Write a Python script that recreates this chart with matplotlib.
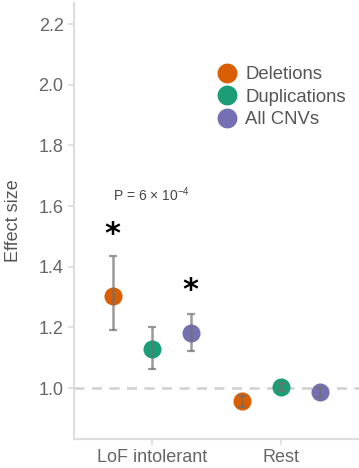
import numpy as np
import matplotlib
matplotlib.use('Agg')
import matplotlib.pyplot as plt

plt.rcParams['font.family'] = ['Liberation Sans', 'DejaVu Sans']
plt.rcParams['mathtext.fontset'] = 'custom'
plt.rcParams['mathtext.rm'] = 'Liberation Sans'
plt.rcParams['mathtext.it'] = 'Liberation Sans:italic'

# Data
categories = ['LoF intolerant', 'Rest']
series = ['Deletions', 'Duplications', 'All CNVs']
colors = ['#D95F02', '#1B9E77', '#7570B3']
effect = {
    'Deletions': [1.305, 0.957],
    'Duplications': [1.130, 1.003],
    'All CNVs': [1.182, 0.986],
}
ci_low = {
    'Deletions': [1.190, 0.938],
    'Duplications': [1.062, 0.990],
    'All CNVs': [1.122, 0.972],
}
ci_high = {
    'Deletions': [1.435, 0.975],
    'Duplications': [1.202, 1.015],
    'All CNVs': [1.245, 1.000],
}
stars = [('Deletions', 0, 1.505), ('All CNVs', 0, 1.32)]
p_label = 'P = 6 × 10$^{-4}$'
yticks = [1.0, 1.2, 1.4, 1.6, 1.8, 2.0, 2.2]

fig = plt.figure(figsize=(3.59, 4.68), dpi=100)
ax = fig.add_axes([0.206, 0.062, 0.794, 0.932])

x = np.arange(1, len(categories) + 1)
dodge = 0.3

ax.axhline(1.0, color='#d0d0d0', lw=1.8, ls=(0, (4, 3)), zorder=1)

for i, s in enumerate(series):
    xs = x + (i - 1) * dodge
    ax.plot(xs, effect[s], 'o', ms=13, color=colors[i], mec='none', zorder=2, label=s)
    lo = np.array(effect[s]) - np.array(ci_low[s])
    hi = np.array(ci_high[s]) - np.array(effect[s])
    ax.errorbar(xs, effect[s], yerr=[lo, hi], fmt='none', ecolor='#707070',
                alpha=0.7, elinewidth=1.8, capsize=3, capthick=1.6, zorder=3)

for s, ci, yv in stars:
    xi = x[ci] + (series.index(s) - 1) * dodge
    ax.text(xi, yv, '*', ha='center', va='center', fontsize=22, fontweight='bold', color='black',
            family='DejaVu Sans')

ax.text(x[0] - dodge, 1.636, p_label, ha='left', va='center', fontsize=10, color='#444444')

ax.set_xlim(0.4, 2.6)
ax.set_ylim(0.832, 2.27)
ax.set_xticks(x)
ax.set_xticklabels(categories)
ax.set_yticks(yticks)
ax.set_yticklabels([f'{v:.1f}' for v in yticks])
ax.set_ylabel('Effect size', fontsize=13, color='#555555', labelpad=12)

for side in ['top', 'right']:
    ax.spines[side].set_visible(False)
for side in ['left', 'bottom']:
    ax.spines[side].set_color('#dddddd')
    ax.spines[side].set_linewidth(1.5)
ax.tick_params(colors='#dddddd', labelcolor='#666666', labelsize=13, length=4, width=1.2)

leg = ax.legend(loc='upper left', bbox_to_anchor=(0.465, 0.872), frameon=False, fontsize=13.3,
                handletextpad=0.3, labelspacing=0.3, borderaxespad=0, handlelength=1.4,
                markerscale=1.1)
for t in leg.get_texts():
    t.set_color('#555555')

fig.savefig('out.png', dpi=100)
